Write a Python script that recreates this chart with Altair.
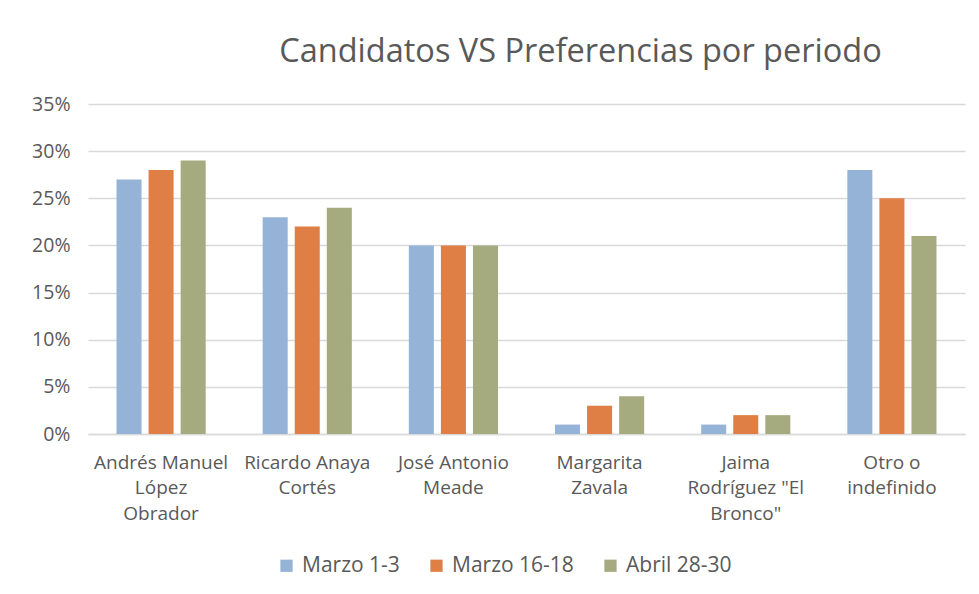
import altair as alt
import pandas as pd

candidatos = [
    "Andrés Manuel|López|Obrador",
    "Ricardo Anaya|Cortés",
    "José Antonio|Meade",
    "Margarita|Zavala",
    "Jaima|Rodríguez \"El|Bronco\"",
    "Otro o|indefinido",
]
periodos = ["Marzo 1-3", "Marzo 16-18", "Abril 28-30"]
marzo_1_3 = [0.27, 0.23, 0.20, 0.01, 0.01, 0.28]
marzo_16_18 = [0.28, 0.22, 0.20, 0.03, 0.02, 0.25]
abril_28_30 = [0.29, 0.24, 0.20, 0.04, 0.02, 0.21]
colores = ["#95B3D7", "#E07F45", "#A5AB7E"]

rows = []
for serie, vals in zip(periodos, [marzo_1_3, marzo_16_18, abril_28_30]):
    for c, v in zip(candidatos, vals):
        rows.append({"Candidato": c, "Periodo": serie, "Valor": v})
df = pd.DataFrame(rows)

FONT = "Open Sans"
GRAY = "#595959"

chart = alt.Chart(df).mark_bar().encode(
    x=alt.X("Candidato:N", sort=candidatos, title=None,
            scale=alt.Scale(paddingInner=0.39, paddingOuter=0.195),
            axis=alt.Axis(labelAngle=0, labelExpr="split(datum.label, '|')",
                          labelFontSize=19, labelColor=GRAY, labelFont=FONT,
                          labelPadding=19, labelLineHeight=25.5, ticks=False,
                          domainColor="#D9D9D9", domainWidth=1.5, labelBaseline="top")),
    xOffset=alt.XOffset("Periodo:N", sort=periodos, scale=alt.Scale(paddingInner=0.22)),
    y=alt.Y("Valor:Q", title=None,
            scale=alt.Scale(domain=[0, 0.35], nice=False),
            axis=alt.Axis(format=".0%", values=[0, 0.05, 0.1, 0.15, 0.2, 0.25, 0.3, 0.35],
                          labelFontSize=19.5, labelColor=GRAY, labelFont=FONT,
                          labelPadding=18, ticks=False, domain=False,
                          gridColor="#D9D9D9", gridWidth=1.5,
                          minExtent=62, maxExtent=62)),
    color=alt.Color("Periodo:N", sort=periodos,
                    scale=alt.Scale(domain=periodos, range=colores),
                    legend=alt.Legend(title=None, orient="none", direction="horizontal",
                                      legendX=188, legendY=451,
                                      labelFontSize=21, labelColor=GRAY, labelFont=FONT,
                                      symbolType="square", symbolSize=150, symbolStrokeWidth=0,
                                      columnPadding=26, labelOffset=5)),
).properties(
    width=877,
    height=330,
    padding={"left": 18, "top": 27, "right": 6, "bottom": 5},
    title=alt.TitleParams("Candidatos VS Preferencias por periodo", fontSize=32.5,
                          font=FONT, fontWeight="normal", color=GRAY,
                          anchor="middle", dx=54, offset=26),
).configure_view(stroke=None)

chart.save("out.html", embed_options={"renderer": "svg", "actions": False})
